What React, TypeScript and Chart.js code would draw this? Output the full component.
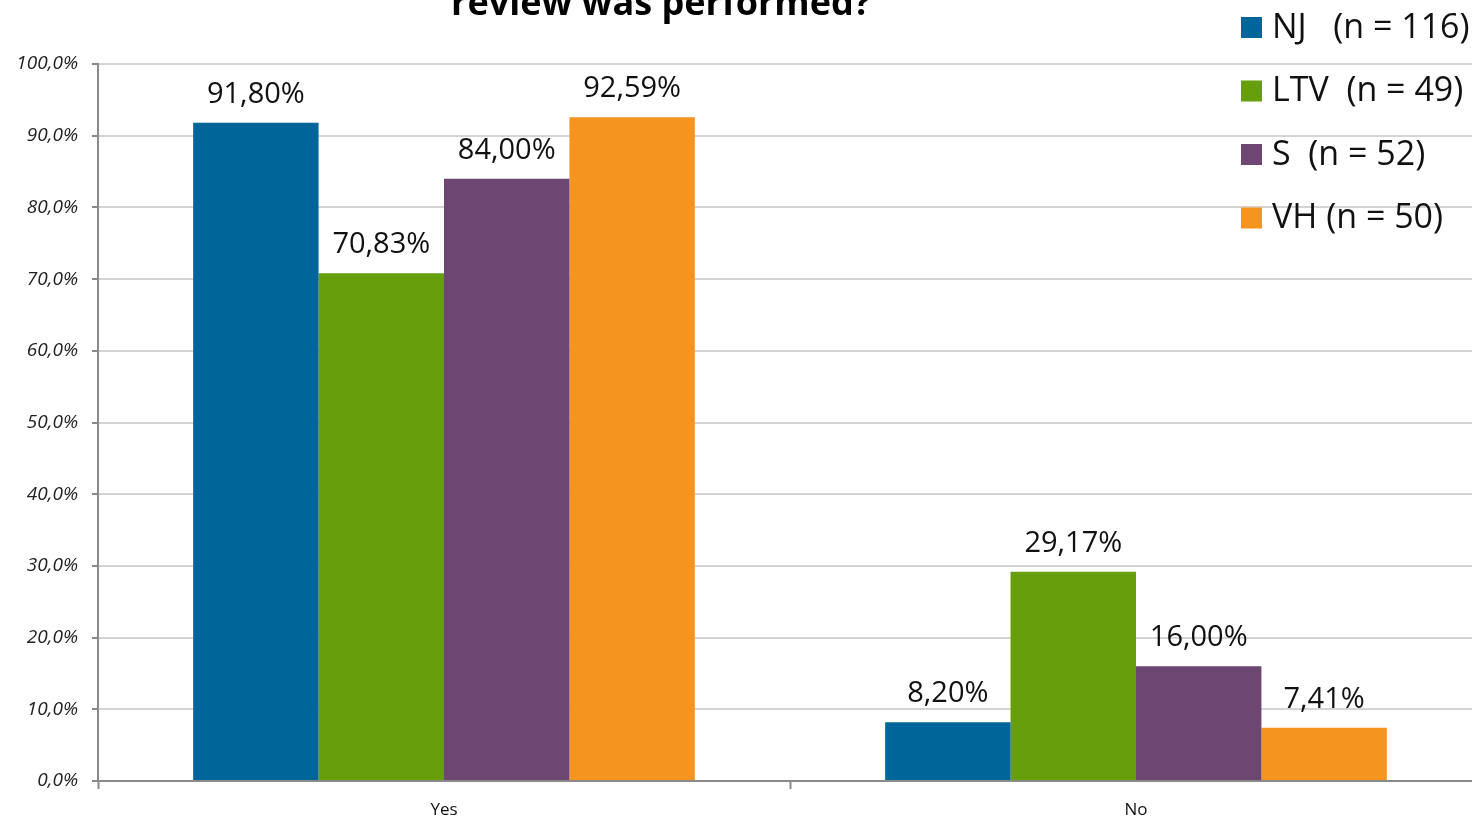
import React, { useEffect, useRef } from "react";
import { Chart, registerables } from "chart.js";

Chart.register(...registerables);

const categories = ["Yes", "No"];
const seriesNames = ["NJ   (n = 116)", "LTV  (n = 49)", "S  (n = 52)", "VH (n = 50)"];
const seriesColors = ["#006699", "#669e0c", "#6d4671", "#f5941f"];
const njValues = [91.8, 8.2];
const ltvValues = [70.83, 29.17];
const sValues = [84.0, 16.0];
const vhValues = [92.59, 7.41];
const titleText = "review was performed?";
const yTickMin = 0;
const yTickMax = 100;
const yTickStep = 10;

const FONT = "'Open Sans', 'Noto Sans', sans-serif";

const valueLabelPlugin = {
  id: "valueLabels",
  afterDatasetsDraw(chart: any) {
    const ctx = chart.ctx;
    ctx.save();
    ctx.font = `29px ${FONT}`;
    ctx.fillStyle = "#111111";
    ctx.textAlign = "center";
    ctx.textBaseline = "alphabetic";
    chart.data.datasets.forEach((ds: any, i: number) => {
      const meta = chart.getDatasetMeta(i);
      meta.data.forEach((bar: any, j: number) => {
        const v = ds.data[j] as number;
        const txt = v.toFixed(2).replace(".", ",") + "%";
        ctx.fillText(txt, bar.x, bar.y - 20);
      });
    });
    ctx.restore();
  },
};

const sideLegendPlugin = {
  id: "sideLegend",
  afterDraw(chart: any) {
    const ctx = chart.ctx;
    ctx.save();
    ctx.font = `34px ${FONT}`;
    ctx.textAlign = "left";
    ctx.textBaseline = "middle";
    const x0 = 1241;
    const y0 = 27;
    const step = 63.5;
    chart.data.datasets.forEach((ds: any, i: number) => {
      const cy = y0 + i * step;
      ctx.fillStyle = ds.backgroundColor;
      ctx.fillRect(x0, cy - 10, 21, 21);
      ctx.fillStyle = "#111111";
      ctx.fillText(ds.label, x0 + 31, cy + 1);
    });
    ctx.restore();
  },
};

const titlePlugin = {
  id: "cutTitle",
  afterDraw(chart: any) {
    const ctx = chart.ctx;
    ctx.save();
    ctx.font = `bold 36px ${FONT}`;
    ctx.fillStyle = "#000000";
    ctx.textAlign = "center";
    ctx.textBaseline = "alphabetic";
    ctx.fillText(titleText, 661, 15);
    ctx.restore();
  },
};

export default function App() {
  const ref = useRef<HTMLCanvasElement | null>(null);

  useEffect(() => {
    if (!ref.current) return;
    const values = [njValues, ltvValues, sValues, vhValues];
    const chart = new Chart(ref.current, {
      type: "bar",
      data: {
        labels: categories,
        datasets: seriesNames.map((name, i) => ({
          label: name,
          data: values[i],
          backgroundColor: seriesColors[i],
          borderWidth: 0,
          categoryPercentage: 0.725,
          barPercentage: 1.0,
        })),
      },
      options: {
        animation: false,
        responsive: false,
        devicePixelRatio: 1,
        layout: { padding: { left: 0, right: 18, top: 64, bottom: 0 } },
        plugins: {
          legend: { display: false },
          title: { display: false },
          tooltip: { enabled: false },
        },
        scales: {
          x: {
            afterFit(scale: any) {
              scale.height = 38;
            },
            grid: {
              drawOnChartArea: false,
              drawTicks: true,
              tickLength: 8,
              tickColor: "#8a8a8a",
              tickWidth: 2,
              offset: true,
            },
            border: { color: "#8a8a8a", width: 2 },
            ticks: {
              padding: 11,
              color: "#111111",
              font: { family: FONT, size: 17 },
            },
          },
          y: {
            min: yTickMin,
            max: yTickMax,
            afterFit(scale: any) {
              scale.width = 98;
            },
            grid: {
              color: "#d4d4d4",
              lineWidth: 2,
              drawTicks: true,
              tickLength: 6,
              tickColor: "#8a8a8a",
              tickWidth: 2,
            },
            border: { color: "#8a8a8a", width: 2 },
            ticks: {
              stepSize: yTickStep,
              padding: 14,
              color: "#222222",
              font: { family: FONT, size: 19, style: "italic" },
              callback: (v: any) => Number(v).toFixed(1).replace(".", ",") + "%",
            },
          },
        },
      },
      plugins: [valueLabelPlugin, sideLegendPlugin, titlePlugin],
    });
    return () => chart.destroy();
  }, []);

  return (
    <div
      style={{
        position: "fixed",
        left: 0,
        top: 0,
        width: 1472,
        height: 819,
        overflow: "hidden",
        background: "#ffffff",
      }}
    >
      <canvas ref={ref} width={1500} height={819} style={{ display: "block" }} />
    </div>
  );
}
